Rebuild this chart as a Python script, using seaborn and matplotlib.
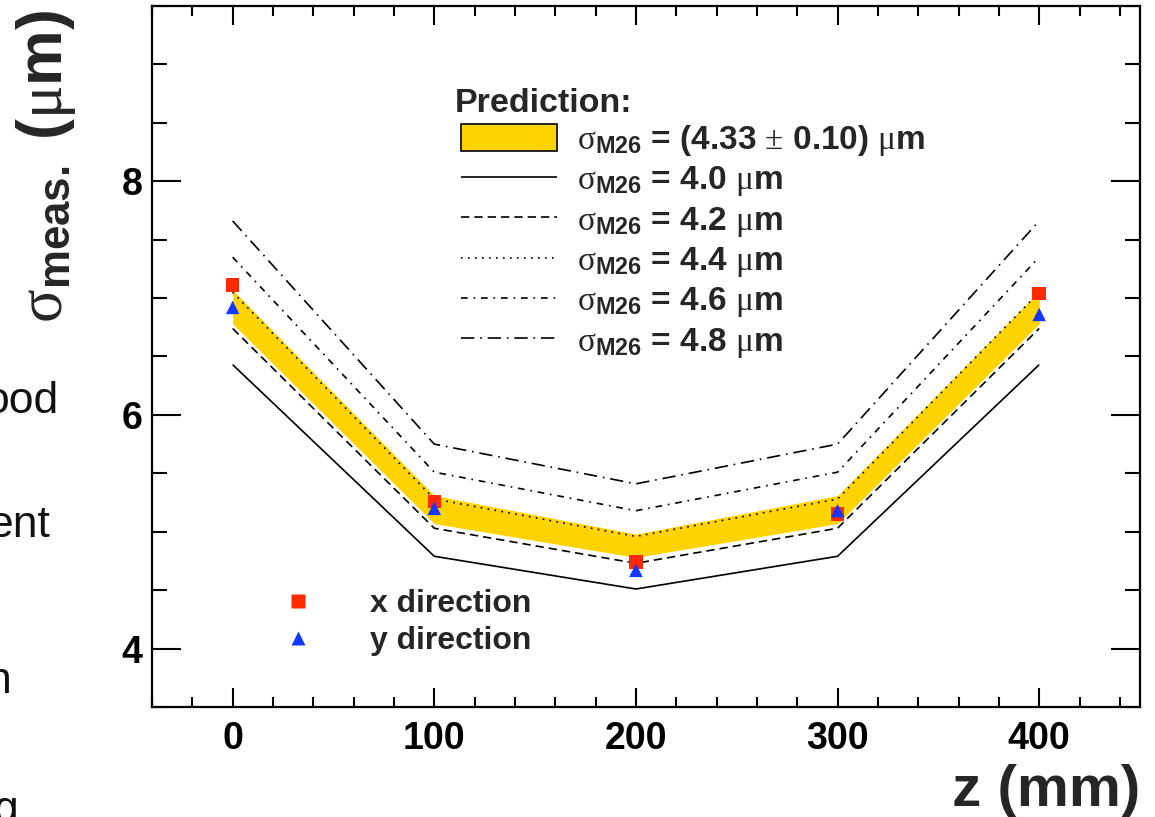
import numpy as np
import pandas as pd
import matplotlib
matplotlib.use("Agg")
import matplotlib.pyplot as plt
import seaborn as sns
from matplotlib.patches import Patch
from matplotlib.lines import Line2D
from matplotlib.ticker import MultipleLocator

# ---------------- data ----------------
z_mm = [0, 100, 200, 300, 400]
pred_4p0 = [6.43, 4.79, 4.51, 4.79, 6.43]
pred_4p2 = [6.74, 5.03, 4.73, 5.03, 6.74]
pred_4p4 = [7.05, 5.28, 4.96, 5.28, 7.05]
pred_4p6 = [7.35, 5.51, 5.18, 5.51, 7.35]
pred_4p8 = [7.66, 5.75, 5.41, 5.75, 7.66]
band_low = [6.78, 5.07, 4.78, 5.07, 6.78]
band_high = [7.07, 5.31, 4.98, 5.31, 7.06]
meas_x = [7.11, 5.26, 4.74, 5.15, 7.04]
meas_y = [6.92, 5.20, 4.67, 5.18, 6.86]

pred_labels = ["4.0", "4.2", "4.4", "4.6", "4.8"]
band_label = "(4.33 $\\mathrm{\\pm}$ 0.10)"
x_ticks = [0, 100, 200, 300, 400]
y_ticks = [4, 6, 8]

# ---------------- style ----------------
sns.set_theme(style="ticks")
plt.rcParams["font.family"] = ["Liberation Sans", "DejaVu Sans"]
plt.rcParams["font.weight"] = "normal"
plt.rcParams["mathtext.fontset"] = "custom"
plt.rcParams["mathtext.rm"] = "Liberation Serif:weight=normal"
plt.rcParams["mathtext.it"] = "Liberation Serif:italic:weight=normal"
plt.rcParams["mathtext.bf"] = "Liberation Sans:weight=bold"
plt.rcParams["mathtext.sf"] = "Liberation Sans:weight=bold"

GOLD = "#FFD300"
RED = "#FF2A00"
BLUE = "#1438FF"
LW = 1.2

fig = plt.figure(figsize=(11.55, 8.17), dpi=100)
ax = fig.add_axes([152 / 1155, 1 - 707 / 817, (1140 - 152) / 1155, (707 - 6) / 817])

ax.fill_between(z_mm, band_low, band_high, color=GOLD, lw=0, zorder=1)

styles = [
    (0, ()),
    (0, (5.0, 3.0)),
    (0, (1.0, 3.2)),
    (0, (4.0, 3.5, 1.0, 3.5)),
    (0, (8.0, 3.5, 1.0, 3.5)),
]
preds = [pred_4p0, pred_4p2, pred_4p4, pred_4p6, pred_4p8]
for vals, ls in zip(preds, styles):
    df = pd.DataFrame({"z": z_mm, "s": vals})
    sns.lineplot(data=df, x="z", y="s", ax=ax, color="black", lw=LW,
                 linestyle=ls, zorder=2, legend=False)

sns.scatterplot(x=z_mm, y=meas_x, ax=ax, marker="s", color=RED, s=95,
                edgecolor="none", zorder=3, legend=False)
sns.scatterplot(x=z_mm, y=meas_y, ax=ax, marker="^", color=BLUE, s=95,
                edgecolor="none", zorder=4, legend=False)

# ---------------- axes ----------------
ax.set_xlim(-40, 450)
ax.set_ylim(3.5, 9.5)
ax.set_xticks(x_ticks)
ax.set_yticks(y_ticks)
ax.xaxis.set_minor_locator(MultipleLocator(20))
ax.yaxis.set_minor_locator(MultipleLocator(0.5))
ax.tick_params(axis="both", which="both", direction="in", top=True, right=True,
               width=1.5, color="black", labelsize=27, labelcolor="black")
ax.tick_params(axis="x", which="major", length=14, pad=10)
ax.tick_params(axis="x", which="minor", length=7)
ax.tick_params(axis="y", which="major", length=21, pad=7)
ax.tick_params(axis="y", which="minor", length=10.5)
for lab in ax.get_xticklabels() + ax.get_yticklabels():
    lab.set_fontweight("bold")
for sp in ax.spines.values():
    sp.set_linewidth(1.6)
    sp.set_color("black")
ax.set_xlabel("")
ax.set_ylabel("")

fig.text(1140 / 1155, 1 - 806 / 817, "z (mm)", ha="right", va="baseline",
         fontsize=42, fontweight="bold")
fig.text(46 / 1155, 1 - 166 / 817,
         "$\\mathrm{\\sigma}_{\\mathbf{meas.}}$ ($\\mathrm{\\mu}$m)",
         rotation=90, ha="center", va="center", fontsize=45, fontweight="bold")

# ---------------- legends ----------------
fig.text(455 / 1155, 1 - 112 / 817, "Prediction:", ha="left", va="baseline",
         fontsize=24.5, fontweight="bold")

sub = "$\\mathrm{\\sigma}_{\\mathbf{M26}}$"
handles = [Patch(facecolor=GOLD, edgecolor="black", lw=1.2)]
labels = [sub + " = " + band_label + " $\\mathrm{\\mu}$m"]
for lab, ls in zip(pred_labels, styles):
    handles.append(Line2D([], [], color="black", lw=LW, linestyle=ls))
    labels.append(sub + " = " + lab + " $\\mathrm{\\mu}$m")
leg1 = ax.legend(handles, labels, loc="upper left",
                 bbox_to_anchor=(461 / 1155, 1 - 123 / 817),
                 bbox_transform=fig.transFigure, frameon=False,
                 prop={"size": 24, "weight": "bold"},
                 handlelength=2.88, handleheight=0.87,
                 handletextpad=0.6, labelspacing=0.19, borderpad=0,
                 borderaxespad=0)
ax.add_artist(leg1)

h2 = [Line2D([], [], marker="s", color=RED, ls="none", markersize=9.5, mec="none"),
      Line2D([], [], marker="^", color=BLUE, ls="none", markersize=10, mec="none")]
leg2 = ax.legend(h2, ["x direction", "y direction"], loc="upper left",
                 bbox_to_anchor=(282 / 1155, 1 - 589 / 817),
                 bbox_transform=fig.transFigure, frameon=False,
                 prop={"size": 23, "weight": "bold"}, handlelength=1.0,
                 handletextpad=1.75, labelspacing=0.21, borderpad=0,
                 borderaxespad=0)

# remnants of slide text at the left edge
for txt, xr, yb in [("ood", 58, 413), ("ent", 50, 537), ("n", 12, 693), ("g", 18, 822)]:
    fig.text(xr / 1155, 1 - yb / 817, txt, ha="right", va="baseline",
             fontsize=32, fontweight="normal", color="#111111")

fig.savefig("out.png", dpi=100)
